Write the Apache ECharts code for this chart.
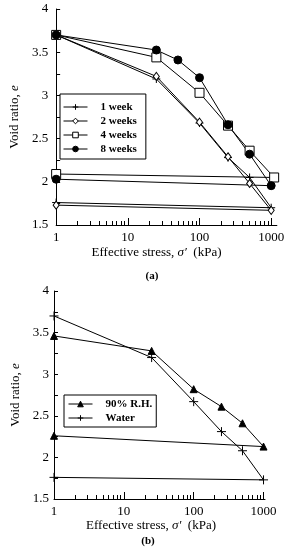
<!DOCTYPE html>
<html><head><meta charset="utf-8">
<script src="https://cdn.jsdelivr.net/npm/echarts@6/dist/echarts.min.js"></script>
<style>html,body{margin:0;padding:0;background:#fff}#c{width:287px;height:550px}</style>
</head><body><div id="c"></div>
<script>
// ---- data (a) ----
const stressA1 = [1, 25, 100, 250, 500, 1000, 1];
const week1 = [3.70, 3.19, 2.68, 2.28, 2.05, 1.70, 1.76];
const stressA2 = [1, 25, 100, 250, 500, 1000, 1];
const week2 = [3.70, 3.22, 2.69, 2.29, 1.98, 1.67, 1.73];
const stressA4 = [1, 25, 100, 250, 500, 1100, 1];
const week4 = [3.70, 3.44, 3.03, 2.65, 2.36, 2.05, 2.09];
const stressA8 = [1, 25, 50, 100, 250, 500, 1000, 1];
const week8 = [3.70, 3.525, 3.41, 3.205, 2.66, 2.32, 1.955, 2.03];
// ---- data (b) ----
const stressB = [1, 25, 100, 250, 500, 1000, 1];
const rh90 = [3.46, 3.28, 2.82, 2.61, 2.41, 2.13, 2.26];
const water = [3.70, 3.20, 2.67, 2.31, 2.08, 1.73, 1.76];
// ---- ticks ----
const minorTickValues = [2,3,4,5,6,7,8,9,20,30,40,50,60,70,80,90,200,300,400,500,600,700,800,900];
const legendA = ['1 week', '2 weeks', '4 weeks', '8 weeks'];
const legendB = ['90% R.H.', 'Water'];

const SERIF = '"Liberation Serif","DejaVu Serif",serif';
const PLUS = 'path://M5,0L5,10M0,5L10,5';

function pairs(xs, ys) { return xs.map((x, i) => [x, ys[i]]); }
function mk(name, xs, ys, symbol, size, fill, xi, yi) {
  return {
    name, type: 'line', xAxisIndex: xi, yAxisIndex: yi,
    data: pairs(xs, ys), symbol, symbolSize: size, showSymbol: true,
    lineStyle: { color: '#000', width: 1 },
    itemStyle: { color: fill, borderColor: '#000', borderWidth: 1 },
    emphasis: { disabled: true }, animation: false
  };
}
function xMain(gi, max, gap, pad) {
  return {
    type: 'log', logBase: 10, gridIndex: gi, min: 1, max: max, position: 'bottom',
    axisLine: { show: true, onZero: false, lineStyle: { color: '#000', width: 1 } },
    axisTick: { show: true, inside: true, length: 7, lineStyle: { color: '#000', width: 1 } },
    axisLabel: { color: '#000', fontFamily: SERIF, fontSize: 13, margin: 6, formatter: v => String(v) },
    splitLine: { show: false },
    name: '{n|Effective stress, }{i|σ′}{n|  (kPa)}', nameLocation: 'middle', nameGap: gap,
    nameTextStyle: { padding: pad, rich: {
      n: { fontFamily: SERIF, fontSize: 13, color: '#000' },
      i: { fontFamily: SERIF, fontSize: 13, fontStyle: 'italic', color: '#000' } } }
  };
}
// minor ticks of the log axis, drawn by a hidden linear axis spanning log10(min)..log10(max)
function xMinor(gi, max) {
  return {
    type: 'value', gridIndex: gi, min: 0, max: Math.log10(max), position: 'bottom',
    axisLine: { show: true, onZero: false, lineStyle: { color: 'rgba(0,0,0,0)' } },
    axisTick: { show: true, inside: true, length: 4, customValues: minorTickValues.map(v => Math.log10(v)), lineStyle: { color: '#000', width: 1 } },
    axisLabel: { show: false }, splitLine: { show: false }
  };
}
function yAx(gi, margin, gap) {
  return {
    type: 'value', gridIndex: gi, min: 1.5, max: 4, interval: 0.5,
    axisLine: { show: true, onZero: false, lineStyle: { color: '#000', width: 1 } },
    axisTick: { show: true, inside: true, length: 4, lineStyle: { color: '#000' } },
    minorTick: { show: true, splitNumber: 2, length: 4, lineStyle: { color: '#000' } },
    axisLabel: { color: '#000', fontFamily: SERIF, fontSize: 13, margin: margin },
    splitLine: { show: false },
    name: '{n|Void ratio, }{i|e}', nameLocation: 'middle', nameGap: gap, nameRotate: 90,
    nameTextStyle: { rich: {
      n: { fontFamily: SERIF, fontSize: 13, color: '#000' },
      i: { fontFamily: SERIF, fontSize: 13, fontStyle: 'italic', color: '#000' } } }
  };
}
function lg(data, left, top, pad) {
  return {
    data, orient: 'vertical', left, top, padding: pad,
    borderColor: '#000', borderWidth: 1, borderRadius: 0, backgroundColor: '#fff',
    itemWidth: 24, itemHeight: 7, itemGap: 0, selectedMode: false,
    lineStyle: { width: 1 }, itemStyle: { borderWidth: 1 },
    textStyle: { fontFamily: SERIF, fontSize: 11, fontWeight: 'bold', color: '#000', lineHeight: 14, padding: [0, 0, 0, 8] }
  };
}

const chart = echarts.init(document.getElementById('c'), null, { renderer: 'canvas' });
chart.setOption({
  backgroundColor: '#fff',
  animation: false,
  grid: [
    { left: 49, top: 9, height: 216, right: 10 },
    { left: 54, top: 291, height: 208, right: 22 }
  ],
  xAxis: [xMain(0, 1200, 21, [0, 20, 0, 0]), xMinor(0, 1200), xMain(1, 1050, 19, [0, 17, 0, 0]), xMinor(1, 1050)],
  yAxis: [yAx(0, 8, 28), yAx(1, 5, 32)],
  legend: [lg(legendA, 60, 94, [6, 9, 3, 3]), lg(legendB, 64, 395, [2, 4, 2, 4])],
  series: [
    mk('1 week', stressA1, week1, PLUS, 8, '#000', 0, 0),
    mk('2 weeks', stressA2, week2, 'diamond', [6, 8], '#fff', 0, 0),
    mk('4 weeks', stressA4, week4, 'rect', 9, '#fff', 0, 0),
    mk('8 weeks', stressA8, week8, 'circle', 8, '#000', 0, 0),
    mk('90% R.H.', stressB, rh90, 'triangle', 7, '#000', 2, 1),
    mk('Water', stressB, water, PLUS, 9, '#000', 2, 1)
  ],
  graphic: [
    { type: 'text', x: 152, y: 276, style: { text: '(a)', font: 'bold 11px ' + SERIF, fill: '#000', textAlign: 'center', textVerticalAlign: 'middle' } },
    { type: 'text', x: 148, y: 541, style: { text: '(b)', font: 'bold 11px ' + SERIF, fill: '#000', textAlign: 'center', textVerticalAlign: 'middle' } }
  ]
});
</script>
</body></html>
